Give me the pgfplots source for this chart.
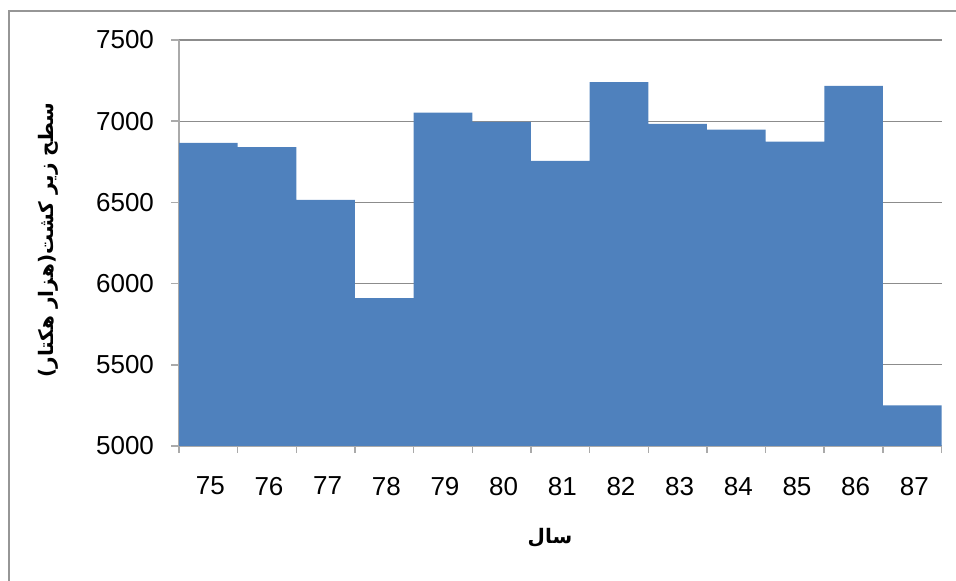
\documentclass[border=0pt]{standalone}
\usepackage{pgfplots}
\pgfplotsset{compat=1.18}
\usepackage{fontspec}
\setmainfont{Liberation Sans}
\newfontfamily\arabicfont[Script=Arabic]{DejaVu Sans}
\TeXXeTstate=1
\definecolor{barblue}{RGB}{79,129,189}
\definecolor{gridgray}{RGB}{140,140,140}
\definecolor{axisgray}{RGB}{170,170,170}
\definecolor{framegray}{RGB}{150,150,150}
\begin{document}
\begin{tikzpicture}
\begin{axis}[
  at={(89.5pt,67.5pt)}, anchor=south west,
  scale only axis, width=381.3pt, height=203pt,
  xmin=74.5, xmax=87.5, ymin=5000, ymax=7500,
  ytick={5000,5500,...,7500},
  xtick={75,...,87},
  minor xtick={74.5,75.5,...,87.5},
  major x tick style={draw=none},
  axis lines*=left,
  axis line style={-, draw=axisgray, line width=1pt},
  tick align=outside,
  major tick length=4pt, minor tick length=3.5pt,
  tick style={draw=axisgray, line width=0.8pt},
  ymajorgrids, grid style={draw=gridgray, line width=0.6pt},
  /pgf/number format/assume math mode=true,
  /pgf/number format/1000 sep={},
  tick label style={font=\fontsize{13}{15}\selectfont},
  xticklabel style={yshift=-8pt, xshift=1pt},
  yticklabel style={xshift=-5pt},
  ybar, bar width=1, bar shift=0pt,
]
\addplot[fill=barblue, draw=none] coordinates {
(75,6866) (76,6841) (77,6515) (78,5911) (79,7053) (80,6995) (81,6755)
(82,7241) (83,6983) (84,6948) (85,6874) (86,7217) (87,5250)};
\end{axis}
\node[rotate=90, font=\arabicfont\bfseries\fontsize{10}{12}\selectfont] at (24pt,170.5pt) {\beginR سطح زیر کشت(هزار هکتار)\endR};
\node[font=\arabicfont\bfseries\fontsize{10}{12}\selectfont] at (275pt,21.5pt) {\beginR سال\endR};
\draw[framegray, line width=1pt] (4.5pt,-2pt) -- (4.5pt,285pt) -- (480pt,285pt);
\pgfresetboundingbox
\path[use as bounding box] (0,0) rectangle (478pt,290.5pt);
\end{tikzpicture}
\end{document}
